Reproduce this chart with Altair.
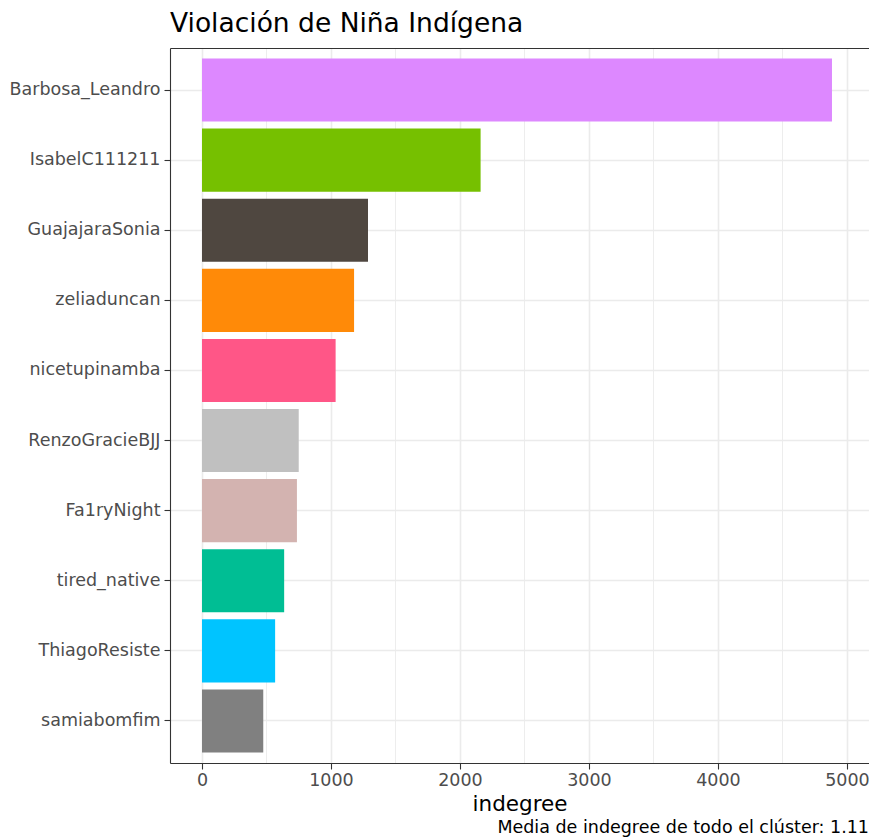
import altair as alt
import pandas as pd

# ---- data ----
usuarios = ["Barbosa_Leandro", "IsabelC111211", "GuajajaraSonia", "zeliaduncan",
            "nicetupinamba", "RenzoGracieBJJ", "Fa1ryNight", "tired_native",
            "ThiagoResiste", "samiabomfim"]
indegree = [4884, 2160, 1287, 1179, 1036, 750, 736, 637, 567, 475]
colores = ["#DD88FF", "#76C000", "#4F4740", "#FF8A08", "#FF5687",
           "#C0C0C0", "#D3B3B0", "#00BE94", "#00C4FF", "#808080"]
titulo = "Violación de Niña Indígena"
eje_x = "indegree"
nota = "Media de indegree de todo el clúster: 1.11"
ticks_mayores = [0, 1000, 2000, 3000, 4000, 5000]
ticks_menores = [500, 1500, 2500, 3500, 4500]

df = pd.DataFrame({"usuario": usuarios, "indegree": indegree, "color": colores})
nota_df = pd.DataFrame({"t": [nota]})

W, H = 699, 715
FONT = "DejaVu Sans"
GRID = "#EBEBEB"
BORDER = "#333333"
LABEL = "#4D4D4D"

x_scale = alt.Scale(domain=[-248, 5171], nice=False, zero=False)
y_scale = alt.Scale(paddingInner=0.1, paddingOuter=0.15)

bars = alt.Chart(df).mark_bar().encode(
    x=alt.X("indegree:Q", scale=x_scale,
            axis=alt.Axis(orient="bottom", values=ticks_mayores, format="d",
                          grid=True, gridColor=GRID, gridWidth=1.6,
                          tickColor=BORDER, tickSize=6, tickWidth=1.1,
                          domainColor=BORDER, domainWidth=1.1,
                          labelFont=FONT, labelFontSize=17.5, labelColor=LABEL,
                          labelPadding=2, labelFlush=False,
                          title=eje_x, titleFont=FONT, titleFontSize=21.5,
                          titleFontWeight="normal", titleColor="black",
                          titlePadding=5)),
    y=alt.Y("usuario:N", sort=usuarios, scale=y_scale,
            axis=alt.Axis(bandPosition=0.5, grid=True, gridColor=GRID,
                          gridWidth=1.6, tickColor=BORDER, tickSize=6,
                          tickWidth=1.1, domainColor=BORDER, domainWidth=1.1,
                          labelFont=FONT, labelFontSize=17.5, labelColor=LABEL,
                          labelPadding=4, title=None)),
    color=alt.Color("color:N", scale=None, legend=None),
)

minor = alt.Chart(df).mark_bar(opacity=0).encode(
    x=alt.X("indegree:Q", scale=x_scale,
            axis=alt.Axis(orient="top", values=ticks_menores, grid=True,
                          gridColor=GRID, gridWidth=0.9, labels=False,
                          ticks=False, domain=True, domainColor=BORDER,
                          domainWidth=1.1, title=None)),
)

caption = alt.Chart(nota_df).mark_text(
    align="right", baseline="alphabetic", font=FONT, fontSize=17.5, color="black"
).encode(text="t:N", x=alt.value(W), y=alt.value(H + 70))

chart = alt.layer(minor, bars, caption).resolve_axis(x="independent").properties(
    width=W, height=H,
    title=alt.TitleParams(titulo, anchor="start", frame="group", font=FONT,
                          fontSize=26.5, fontWeight="normal", color="black",
                          baseline="alphabetic", offset=-10),
    autosize=alt.AutoSizeParams(type="none"),
    padding={"left": 162, "top": 40, "right": 0, "bottom": 76},
    background="white",
).configure_view(stroke=None)

chart.save("out.html", embed_options={"renderer": "svg", "actions": False})
